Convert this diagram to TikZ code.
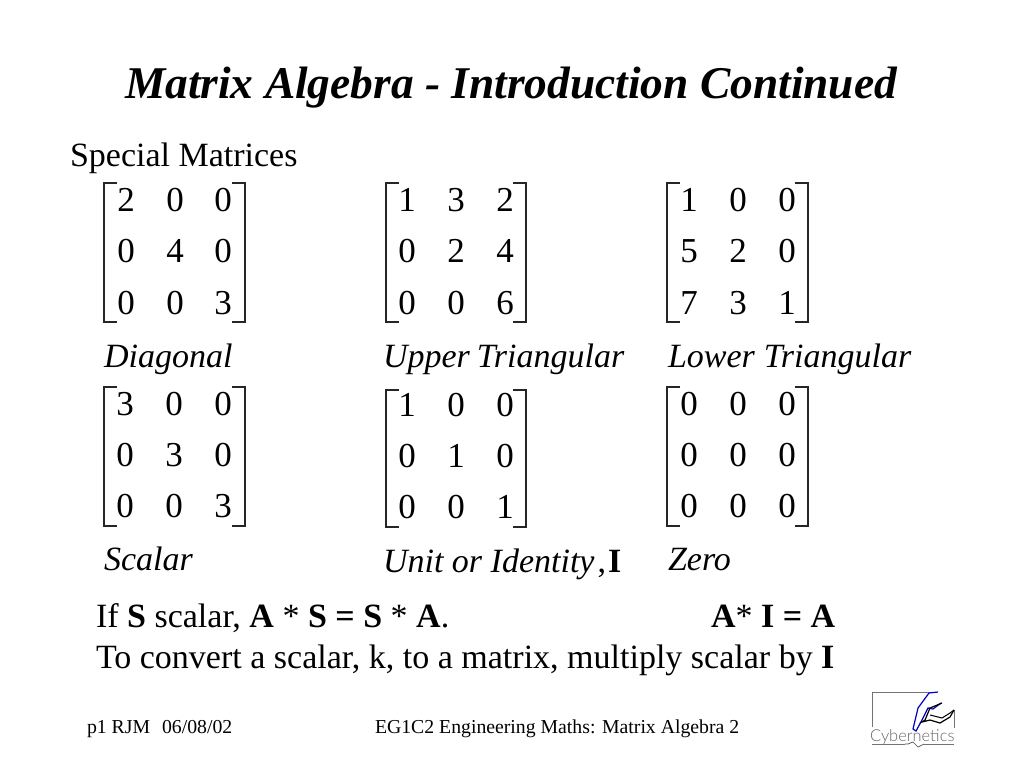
\documentclass[tikz,border=0pt]{standalone}
\usepackage{fontspec}
\setmainfont{Liberation Serif}
\newcommand{\fs}[1]{\fontsize{#1}{#1}\selectfont}
\tikzset{x=1pt,y=-1pt,
 txt/.style={anchor=base west,inner sep=0pt,outer sep=0pt,font=\fs{34}},
 ital/.style={txt,font=\fs{34}\itshape},
 foot/.style={txt,font=\fs{19.75}},
 num/.style={anchor=center,inner sep=0pt,yshift=-4pt,font=\fs{35}},
 brk/.style={draw=black!85,line width=1.5pt}}
% \mymat{name}{xleft}{xright}{ytop}{ybottom}{x1,x2,x3}{y1,y2,y3}{nine digits}
\newcommand{\mymat}[9]{%
 \coordinate (#1ltt) at (#2+13,#4); \coordinate (#1ltb) at (#2,#4);
 \coordinate (#1lbt) at (#2,#5); \coordinate (#1lbb) at (#2+13,#5);
 \coordinate (#1rtt) at (#3-13,#4); \coordinate (#1rtb) at (#3,#4);
 \coordinate (#1rbt) at (#3,#5); \coordinate (#1rbb) at (#3-13,#5);
 \draw[brk] (#1ltt) -- (#1ltb) -- (#1lbt) -- (#1lbb);
 \draw[brk] (#1rtt) -- (#1rtb) -- (#1rbt) -- (#1rbb);
 \mydigits{#1}#6#7#8#9}
\newcommand{\mydigits}[5]{%
 \def\mn{#1}\def\xa{#2}\def\xb{#3}\def\xc{#4}\def\ya{#5}\mydigitsb}
\newcommand{\mydigitsb}[7]{%
 \def\yb{#1}\def\yc{#2}%
 \node[num] (\mn a) at (\xa,\ya) {\strut #3}; \node[num] (\mn b) at (\xb,\ya) {\strut #4}; \node[num] (\mn c) at (\xc,\ya) {\strut #5};
 \def\dg{#6}\def\dh{#7}\mydigitsc}
\newcommand{\mydigitsc}[4]{%
 \node[num] (\mn d) at (\xa,\yb) {\strut \dg}; \node[num] (\mn e) at (\xb,\yb) {\strut \dh}; \node[num] (\mn f) at (\xc,\yb) {\strut #1};
 \node[num] (\mn g) at (\xa,\yc) {\strut #2}; \node[num] (\mn h) at (\xb,\yc) {\strut #3}; \node[num] (\mn i) at (\xc,\yc) {\strut #4};}
\begin{document}
\begin{tikzpicture}
\useasboundingbox[fill=white] (0,0) rectangle (1024,768);
\node[txt,font=\fs{45.4}\bfseries\itshape] (title) at (125,98) {Matrix Algebra - Introduction Continued};
\node[txt] (special) at (70,166) {Special Matrices};
\mymat{m}{104}{245}{183}{322}{{126}{175}{223}}{{200}{251}{303}}{200040003}
\mymat{n}{386}{526}{183}{322}{{407}{456}{505}}{{200}{251}{303}}{132024006}
\mymat{o}{667}{808}{183}{322}{{689}{738}{787}}{{200}{251}{303}}{100520731}
\mymat{p}{104}{245}{387}{526}{{125}{174}{223}}{{404}{455}{506}}{300030003}
\mymat{q}{386}{526}{390}{527}{{407}{456}{505}}{{405}{456}{507}}{100010001}
\mymat{r}{667}{808}{387}{526}{{689}{738}{787}}{{404}{455}{506}}{000000000}
\node[ital] (diag) at (104,367) {Diagonal};
\node[ital] (upper) at (383,367) {Upper\hspace{7pt}Triangular};
\node[ital] (lower) at (668,367) {Lower\hspace{9pt}Triangular};
\node[ital] (scalar) at (104,570) {Scalar};
\node[ital] (unit) at (383,572) {Unit or Identity\hspace{3pt}{\upshape ,}\hspace{2pt}{\upshape\bfseries I}};
\node[ital] (zero) at (668,570) {Zero};
\node[txt] (l1) at (96,627) {If \textbf{S} scalar, \textbf{A} * \textbf{S = S} * \textbf{A}.};
\node[txt] (l1b) at (711,627) {\textbf{A}* \textbf{I = A}};
\node[txt] (l2) at (96,668) {To convert a scalar, k, to a matrix, multiply scalar by \textbf{I}};
\node[foot] (f1) at (87,733) {p1 RJM\hspace{7pt} 06/08/02};
\node[foot] (f2) at (375,733) {EG1C2 Engineering Maths: Matrix Algebra 2};
% logo
\draw[draw=black!55,line width=0.9pt] (954,728) -- (954,710);
\draw[draw=black!55,line width=0.9pt] (872,727) -- (872,692) -- (930,692);
\draw[draw=blue!75!black,line width=1.2pt] (938,692) -- (929,693) -- (918,708) -- (913,729) -- (916,731) -- (922,720) -- (928,708) -- (933,709) -- (941,703);
\draw[black,line width=1.2pt] (942,703) -- (930,708) -- (925,720) -- (922,722) -- (930,720) -- (940,723) -- (950,717) -- (954,710);
\draw[black,line width=1pt] (930,715) -- (942,718) -- (950,713) -- (954,710);
\node[anchor=base west,inner sep=0pt,text=black!60,font=\fontspec{Lato Light}\fs{16.4}] (cyb) at (870,741) {Cybernetics};
\draw[draw=black!55,line width=0.7pt] (872,744) -- (905,744) (924,744) -- (954,744);
\draw[draw=black!70,line width=0.7pt] (905,744) -- (908,744) -- (913,742) -- (918,747) -- (924,744);
\end{tikzpicture}
\end{document}
